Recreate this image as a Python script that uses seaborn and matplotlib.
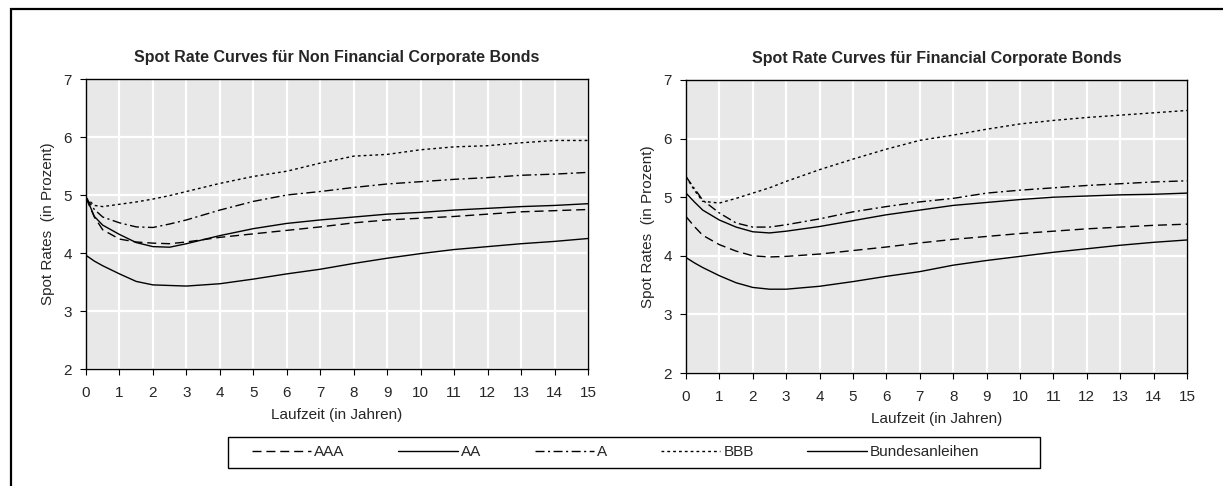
import numpy as np
import pandas as pd
import matplotlib
matplotlib.use("Agg")
import matplotlib.pyplot as plt
from matplotlib.lines import Line2D
from matplotlib.patches import Rectangle
import seaborn as sns

# ---------------- data ----------------
maturity = [0, 0.25, 0.5, 1, 1.5, 2, 2.5, 3, 4, 5, 6, 7, 8, 9, 10, 11, 12, 13, 14, 15]
series_names = ["AAA", "AA", "A", "BBB", "Bundesanleihen"]

nfc_aaa = [4.95, 4.62, 4.40, 4.24, 4.19, 4.17, 4.16, 4.19, 4.27, 4.33, 4.39, 4.45, 4.52, 4.57, 4.60, 4.63, 4.67, 4.71, 4.73, 4.75]
nfc_aa = [4.97, 4.63, 4.48, 4.32, 4.18, 4.11, 4.10, 4.16, 4.30, 4.42, 4.51, 4.57, 4.62, 4.67, 4.70, 4.74, 4.77, 4.80, 4.82, 4.85]
nfc_a = [4.95, 4.75, 4.62, 4.52, 4.45, 4.44, 4.50, 4.57, 4.74, 4.89, 5.00, 5.06, 5.13, 5.19, 5.23, 5.27, 5.30, 5.34, 5.36, 5.39]
nfc_bbb = [4.95, 4.82, 4.80, 4.84, 4.88, 4.93, 4.99, 5.06, 5.20, 5.32, 5.41, 5.55, 5.67, 5.70, 5.78, 5.83, 5.85, 5.90, 5.94, 5.94]
nfc_bund = [3.96, 3.86, 3.78, 3.64, 3.51, 3.45, 3.44, 3.43, 3.47, 3.55, 3.64, 3.72, 3.82, 3.91, 3.99, 4.06, 4.11, 4.16, 4.20, 4.25]

fc_aaa = [4.67, 4.50, 4.35, 4.19, 4.08, 4.00, 3.98, 3.99, 4.03, 4.09, 4.15, 4.22, 4.28, 4.33, 4.38, 4.42, 4.46, 4.49, 4.52, 4.54]
fc_aa = [5.07, 4.92, 4.78, 4.61, 4.49, 4.41, 4.39, 4.42, 4.50, 4.60, 4.70, 4.78, 4.86, 4.91, 4.96, 5.00, 5.02, 5.04, 5.05, 5.07]
fc_a = [5.35, 5.15, 4.95, 4.73, 4.56, 4.49, 4.49, 4.53, 4.63, 4.75, 4.84, 4.92, 4.98, 5.07, 5.12, 5.16, 5.20, 5.23, 5.26, 5.28]
fc_bbb = [5.35, 5.12, 4.93, 4.90, 4.98, 5.07, 5.16, 5.27, 5.47, 5.65, 5.82, 5.97, 6.06, 6.16, 6.25, 6.31, 6.36, 6.40, 6.44, 6.48]
fc_bund = [3.97, 3.88, 3.80, 3.66, 3.54, 3.46, 3.43, 3.43, 3.48, 3.56, 3.65, 3.73, 3.84, 3.92, 3.99, 4.06, 4.12, 4.18, 4.23, 4.27]

titles = ["Spot Rate Curves für Non Financial Corporate Bonds",
          "Spot Rate Curves für Financial Corporate Bonds"]
xlabel = "Laufzeit (in Jahren)"
ylabel = "Spot Rates  (in Prozent)"
x_ticks = list(range(0, 16))
y_ticks = [2, 3, 4, 5, 6, 7]

# ---------------- styling ----------------
sns.set_style("white", {"axes.facecolor": "#E8E8E8"})
plt.rcParams["font.family"] = ["Liberation Sans", "DejaVu Sans"]

dash_map = {
    "AAA": (6.5, 3.5),
    "AA": "",
    "A": (6.5, 2.5, 1.5, 2.5),
    "BBB": (2.0, 2.2),
    "Bundesanleihen": "",
}


def long_df(vals):
    rows = []
    for name, v in zip(series_names, vals):
        for t, r in zip(maturity, v):
            rows.append({"t": t, "rate": r, "series": name})
    return pd.DataFrame(rows)


panels = [
    long_df([nfc_aaa, nfc_aa, nfc_a, nfc_bbb, nfc_bund]),
    long_df([fc_aaa, fc_aa, fc_a, fc_bbb, fc_bund]),
]

W, H = 1223, 486
fig = plt.figure(figsize=(W / 100, H / 100), dpi=100)

ax_boxes = [
    (86, 79, 588, 369),
    (686, 80, 1187, 373),
]

for i, (df, box) in enumerate(zip(panels, ax_boxes)):
    x0, y0, x1, y1 = box
    ax = fig.add_axes([x0 / W, 1 - y1 / H, (x1 - x0) / W, (y1 - y0) / H])
    sns.lineplot(data=df, x="t", y="rate", style="series", dashes=dash_map,
                 color="black", linewidth=1.0, ax=ax, legend=False,
                 estimator=None, sort=False)
    ax.set_xlim(0, 15)
    ax.set_ylim(2, 7)
    ax.set_xticks(x_ticks)
    ax.set_yticks(y_ticks)
    ax.grid(True, color="white", linewidth=1.6)
    ax.set_axisbelow(True)
    for s in ax.spines.values():
        s.set_visible(True)
        s.set_color("black")
        s.set_linewidth(1.0)
    ax.tick_params(axis="both", direction="out", length=4, width=0.8,
                   color="black", labelsize=11, bottom=True, left=True)
    ax.tick_params(axis="x", pad=8)
    ax.tick_params(axis="y", pad=6)
    ax.set_xlabel(xlabel, fontsize=11, labelpad=6)
    ax.set_ylabel(ylabel, fontsize=11, labelpad=6)
    ax.set_title(titles[i], fontsize=11.5, fontweight="bold", pad=12)

# legend
handles = [Line2D([0], [0], color="black", linewidth=1.0,
                  linestyle=(0, dash_map[n]) if dash_map[n] else "-")
           for n in series_names]
leg = fig.legend(handles, series_names, loc="center left",
                 bbox_to_anchor=(238 / W, 1 - 452 / H), ncol=5,
                 frameon=False, fontsize=11, handlelength=3.9,
                 handletextpad=0.2, columnspacing=3.5)
fig.add_artist(Rectangle((228 / W, 1 - 468 / H), (1040 - 228) / W, 31 / H,
                         transform=fig.transFigure, fill=False,
                         edgecolor="black", linewidth=1.0))
# outer frame
fig.add_artist(Rectangle((11 / W, -0.1), 1.2, 1.1 - 9 / H,
                         transform=fig.transFigure, fill=False,
                         edgecolor="black", linewidth=1.6))

fig.savefig("out.png", dpi=100, facecolor="white")
